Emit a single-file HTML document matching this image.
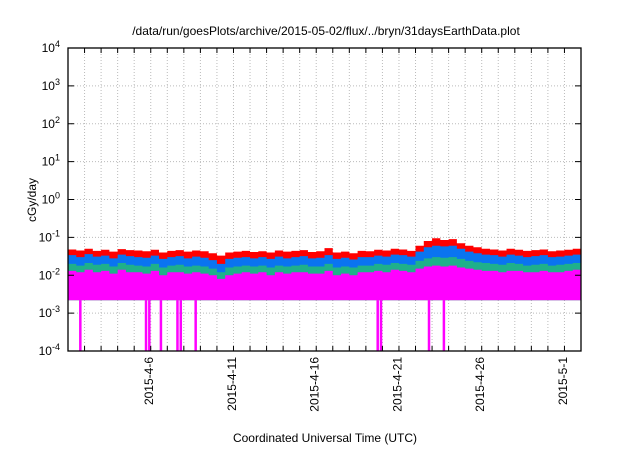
<!DOCTYPE html>
<html><head><meta charset="utf-8"><style>
body{margin:0;background:#fff;width:640px;height:448px;overflow:hidden;font-family:"Liberation Sans",sans-serif}
</style></head><body>
<svg id="c" width="640" height="448" font-family="Liberation Sans, sans-serif"></svg>
<script>
const days=["2015-4-6","2015-4-11","2015-4-16","2015-4-21","2015-4-26","2015-5-1"];
const dayPos=[4.9,9.9,14.9,19.9,24.9,29.9];
const yExp=[-4,-3,-2,-1,0,1,2,3,4];
const red=[0.048,0.045,0.050,0.044,0.047,0.042,0.049,0.046,0.045,0.043,0.047,0.040,0.044,0.046,0.042,0.045,0.043,0.038,0.033,0.040,0.042,0.044,0.041,0.043,0.040,0.045,0.042,0.044,0.046,0.041,0.043,0.052,0.040,0.042,0.038,0.044,0.043,0.047,0.045,0.050,0.048,0.044,0.060,0.080,0.095,0.085,0.090,0.070,0.060,0.055,0.050,0.048,0.045,0.050,0.047,0.044,0.046,0.048,0.043,0.045,0.047,0.050];
const blue=[0.034,0.030,0.036,0.031,0.033,0.028,0.035,0.032,0.030,0.029,0.033,0.027,0.030,0.032,0.028,0.031,0.029,0.025,0.020,0.027,0.029,0.030,0.028,0.030,0.027,0.031,0.028,0.030,0.032,0.028,0.029,0.034,0.027,0.029,0.026,0.030,0.030,0.033,0.031,0.035,0.034,0.031,0.042,0.055,0.060,0.058,0.060,0.050,0.042,0.038,0.035,0.034,0.031,0.035,0.033,0.030,0.032,0.034,0.030,0.031,0.033,0.035];
const green=[0.020,0.018,0.021,0.019,0.020,0.017,0.021,0.019,0.018,0.017,0.020,0.016,0.018,0.019,0.017,0.018,0.017,0.015,0.012,0.016,0.017,0.018,0.017,0.018,0.016,0.018,0.017,0.018,0.019,0.017,0.017,0.020,0.016,0.017,0.016,0.018,0.018,0.020,0.019,0.021,0.020,0.019,0.024,0.028,0.030,0.029,0.030,0.027,0.024,0.022,0.021,0.020,0.019,0.021,0.020,0.018,0.019,0.020,0.018,0.019,0.020,0.021];
const pinkTop=[0.013,0.012,0.014,0.012,0.013,0.011,0.014,0.012,0.012,0.011,0.013,0.010,0.012,0.012,0.011,0.012,0.011,0.010,0.008,0.010,0.011,0.012,0.011,0.012,0.010,0.012,0.011,0.012,0.012,0.011,0.011,0.013,0.010,0.011,0.010,0.012,0.012,0.013,0.012,0.014,0.013,0.012,0.015,0.017,0.018,0.017,0.018,0.016,0.015,0.014,0.013,0.013,0.012,0.013,0.013,0.012,0.012,0.013,0.012,0.012,0.013,0.014];
const pinkBottom=0.0022;
const drops=[0.73,4.7,4.9,5.6,6.6,6.8,7.7,18.7,18.9,21.8,22.7];
const L=68,R=581,T=48,B=351,SPAN=31;
const X=d=>L+(R-L)*d/SPAN;
const Y=v=>B-(Math.log10(v)+4)/8*(B-T);
const svg=document.getElementById('c');const NS='http://www.w3.org/2000/svg';
function mk(t,a,p){const e=document.createElementNS(NS,t);for(const k in a)e.setAttribute(k,a[k]);(p||svg).appendChild(e);return e;}
// grid
for(let d=1;d<SPAN;d++){const g=mk('line',{x1:X(d),x2:X(d),y1:T,y2:B,stroke:'#bbb','stroke-dasharray':'1,2'});

}
yExp.forEach(e=>{const g=mk('line',{x1:L,x2:R,y1:Y(Math.pow(10,e)),y2:Y(Math.pow(10,e)),stroke:'#bbb','stroke-dasharray':'1,2'});

});
function area(arr,col,name){const n=arr.length;let p='';for(let i=0;i<n;i++){const x0=X(i*SPAN/n),x1=X((i+1)*SPAN/n);p+=(i?'L':'M')+x0+','+Y(arr[i])+'L'+x1+','+Y(arr[i]);}
p+='L'+X(SPAN)+','+Y(pinkBottom)+'L'+X(0)+','+Y(pinkBottom)+'Z';const e=mk('path',{d:p,fill:col});

}
area(red,'#ff0000','series-red');area(blue,'#0a74f0','series-blue');area(green,'#1fb08a','series-green');area(pinkTop,'#ff00ff','series-magenta');
drops.forEach(d=>{const e=mk('rect',{x:X(d)-1,y:Y(pinkBottom),width:2.5,height:B-Y(pinkBottom),fill:'#ff00ff'});

});
// frame
const f=mk('rect',{x:L,y:T,width:R-L,height:B-T,fill:'none',stroke:'#000','stroke-width':1.3});


for(let d=1;d<SPAN;d++){mk('line',{x1:X(d),x2:X(d),y1:B,y2:B-5,stroke:'#000'});mk('line',{x1:X(d),x2:X(d),y1:T,y2:T+5,stroke:'#000'});}
yExp.forEach(e=>{const y=Y(Math.pow(10,e));mk('line',{x1:L,x2:L+6,y1:y,y2:y,stroke:'#000'});mk('line',{x1:R,x2:R-6,y1:y,y2:y,stroke:'#000'});
const t=mk('text',{x:L-8,y:y+4,'text-anchor':'end','font-size':12});


t.innerHTML='10<tspan dy="-5" font-size="9">'+e+'</tspan>';});
days.forEach((s,i)=>{const x=X(dayPos[i]);const t=mk('text',{transform:'translate('+(x+4)+','+(B+6)+') rotate(-90)','text-anchor':'end','font-size':12});


t.textContent=s;});
const ti=mk('text',{x:326,y:35,'text-anchor':'middle','font-size':12});


ti.textContent='/data/run/goesPlots/archive/2015-05-02/flux/../bryn/31daysEarthData.plot';
const xt=mk('text',{x:325,y:442,'text-anchor':'middle','font-size':12});


xt.textContent='Coordinated Universal Time (UTC)';
const yt=mk('text',{transform:'translate(36,200) rotate(-90)','text-anchor':'middle','font-size':12});


yt.textContent='cGy/day';
</script>
</body></html>
